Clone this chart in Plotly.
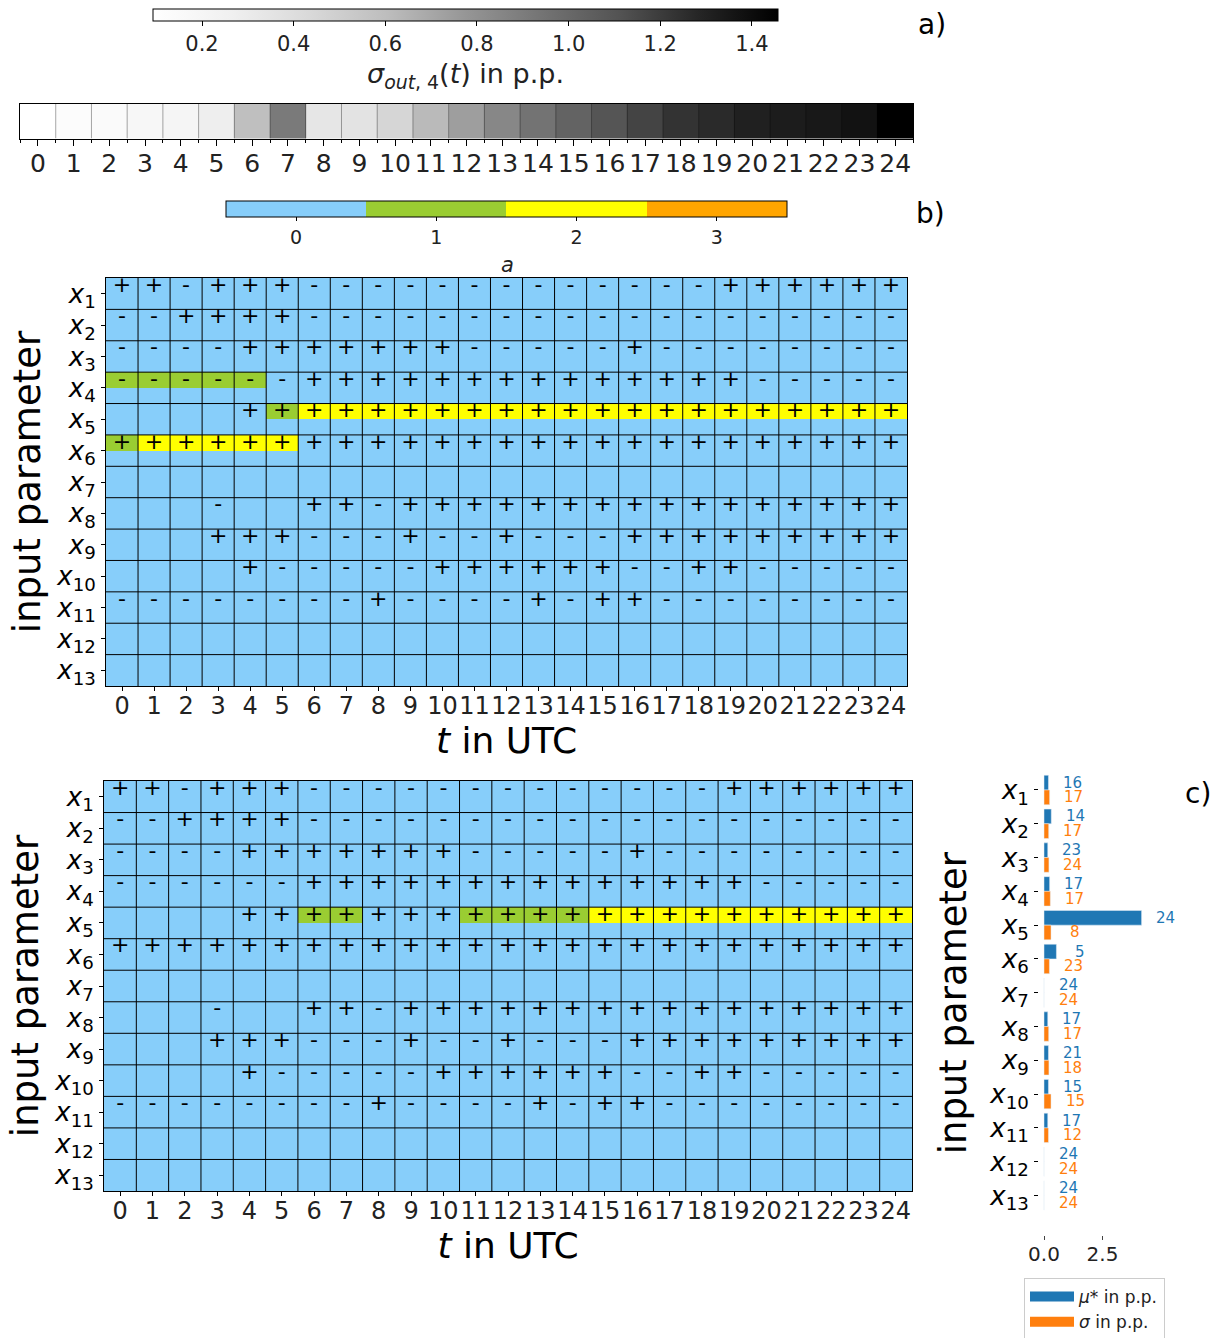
import numpy as np
import plotly.graph_objects as go

W, H = 1220, 1338
FONT = "DejaVu Sans"

# ---- data -------------------------------------------------------------
hours = list(range(25))
param_idx = list(range(13))
param_labels = [f"<i>x</i><sub>{i + 1}</sub>" for i in param_idx]

# hourly output spread sigma_out,4(t) in p.p.
sigma_out4 = [0.093, 0.127, 0.150, 0.184, 0.207, 0.279, 0.593, 0.911, 0.337,
              0.360, 0.452, 0.618, 0.740, 0.848, 0.948, 1.029, 1.101, 1.169,
              1.233, 1.267, 1.310, 1.328, 1.347, 1.374, 1.457]

# sign of the elementary effect per parameter and hour ('.' = none)
signs = [
    "++-+++-------------++++++",
    "--++++-------------------",
    "----+++++++-----+--------",
    "------++++++++++++++-----",
    "....+++++++++++++++++++++",
    "+++++++++++++++++++++++++",
    ".........................",
    "...-..++-++++++++++++++++",
    "...+++---+--+---+++++++++",
    "....+-----++++++--++-----",
    "--------+----+-++--------",
    ".........................",
    ".........................",
]

# category a per parameter and hour (upper matrix)
cat_upper = [
    "0000000000000000000000000",
    "0000000000000000000000000",
    "0000000000000000000000000",
    "1111100000000000000000000",
    "0000012222222222222222222",
    "1222220000000000000000000",
    "0000000000000000000000000",
    "0000000000000000000000000",
    "0000000000000000000000000",
    "0000000000000000000000000",
    "0000000000000000000000000",
    "0000000000000000000000000",
    "0000000000000000000000000",
]

# category a per parameter and hour (lower matrix)
cat_lower = [
    "0000000000000000000000000",
    "0000000000000000000000000",
    "0000000000000000000000000",
    "0000000000000000000000000",
    "0000001100011112222222222",
    "0000000000000000000000000",
    "0000000000000000000000000",
    "0000000000000000000000000",
    "0000000000000000000000000",
    "0000000000000000000000000",
    "0000000000000000000000000",
    "0000000000000000000000000",
    "0000000000000000000000000",
]

# Morris screening per parameter
mu_star = [0.19, 0.31, 0.16, 0.24, 4.17, 0.53, 0.0, 0.16, 0.19, 0.19, 0.16, 0.0, 0.0]
sigma = [0.24, 0.20, 0.21, 0.27, 0.30, 0.23, 0.0, 0.20, 0.21, 0.30, 0.19, 0.0, 0.0]
mu_hours = [16, 14, 23, 17, 24, 5, 24, 17, 21, 15, 17, 24, 24]
sigma_hours = [17, 17, 24, 17, 8, 23, 24, 17, 18, 15, 12, 24, 24]

cb_ticks = [0.2, 0.4, 0.6, 0.8, 1.0, 1.2, 1.4]
cat_ticks = [0, 1, 2, 3]

# ---- styles -----------------------------------------------------------
GREYS = [[0.0, "#ffffff"], [0.125, "#f0f0f0"], [0.25, "#d9d9d9"],
         [0.375, "#bdbdbd"], [0.5, "#969696"], [0.625, "#737373"],
         [0.75, "#525252"], [0.875, "#252525"], [1.0, "#000000"]]
CAT_COLORS = ["#87cefa", "#9acd32", "#ffff00", "#ffa500"]
CAT_SCALE = []
for k, c in enumerate(CAT_COLORS):
    CAT_SCALE += [[k / 4, c], [(k + 1) / 4, c]]
BLUE, ORANGE = "#1f77b4", "#ff7f0e"


def fx(px):
    return px / W


def fy(py):
    return 1 - py / H


def half_rows(cat_rows):
    """Each parameter row: coloured upper half, plain lower half."""
    z = []
    for row in cat_rows:
        z.append([int(c) for c in row])
        z.append([0] * len(row))
    return z


y_edges = np.arange(-0.5, len(param_idx) + 0.01, 0.5)

fig = go.Figure()

# ---- a) hourly sigma strip -----------------------------------------------
fig.add_trace(go.Heatmap(
    z=[sigma_out4], x=hours, y=[0], xaxis="x", yaxis="y",
    colorscale=GREYS, zmin=min(sigma_out4), zmax=max(sigma_out4),
    hoverinfo="skip",
    colorbar=dict(
        orientation="h", x=fx(465.5), xanchor="center", y=fy(9), yanchor="top",
        len=625 / W, lenmode="fraction", thickness=12, xpad=0, ypad=0,
        outlinecolor="black", outlinewidth=1,
        tickvals=cb_ticks, ticktext=[f"{v:.1f}" for v in cb_ticks],
        ticks="outside", ticklen=5, tickcolor="black",
        tickfont=dict(family=FONT, size=21, color="#222"),
        title=dict(text="<i>σ</i><sub><i>out</i>, 4</sub>(<i>t</i>) in p.p.",
                   side="bottom", font=dict(family=FONT, size=27, color="#222")),
    ),
))

# ---- b) sign matrices --------------------------------------------------
def add_matrix(cat_rows, xa, ya, show_scale):
    cb = None
    if show_scale:
        cb = dict(
            orientation="h", x=fx(506.5), xanchor="center", y=fy(201), yanchor="top",
            len=561 / W, lenmode="fraction", thickness=16, xpad=0, ypad=0,
            outlinecolor="black", outlinewidth=1,
            tickvals=cat_ticks, ticktext=[str(v) for v in cat_ticks],
            ticks="outside", ticklen=4, tickcolor="black",
            tickfont=dict(family=FONT, size=19, color="#222"),
        )
    fig.add_trace(go.Heatmap(
        z=half_rows(cat_rows), x=hours, y=y_edges, xaxis=xa, yaxis=ya,
        colorscale=CAT_SCALE, zmin=-0.5, zmax=len(CAT_COLORS) - 0.5,
        showscale=show_scale, colorbar=cb, hoverinfo="skip",
    ))
    sx, sy, st = [], [], []
    for r, row in enumerate(signs):
        for c, s in enumerate(row):
            if s != ".":
                sx.append(hours[c])
                sy.append(r - 0.24)
                st.append(s)
    fig.add_trace(go.Scatter(
        x=sx, y=sy, text=st, mode="text", xaxis=xa, yaxis=ya,
        textfont=dict(family=FONT, size=22, color="black"),
        textposition="middle center", hoverinfo="skip", showlegend=False,
    ))


add_matrix(cat_upper, "x2", "y2", True)
add_matrix(cat_lower, "x3", "y3", False)

# ---- c) Morris bars -------------------------------------------------------
BARGAP = 0.13
fig.add_trace(go.Bar(x=mu_star, y=param_idx, orientation="h", marker_color=BLUE,
                     xaxis="x4", yaxis="y4", showlegend=False, hoverinfo="skip"))
fig.add_trace(go.Bar(x=sigma, y=param_idx, orientation="h", marker_color=ORANGE,
                     xaxis="x4", yaxis="y4", showlegend=False, hoverinfo="skip"))
for name, col in [("<i>μ</i>* in p.p.", BLUE), ("<i>σ</i> in p.p.", ORANGE)]:
    fig.add_trace(go.Scatter(x=[None], y=[None], mode="lines", name=name,
                             line=dict(color=col, width=15), xaxis="x4", yaxis="y4"))

off = (1 - BARGAP) / 4
annotations = []
for i in param_idx:
    for val, cnt, col, sgn in [(mu_star[i], mu_hours[i], BLUE, -1),
                               (sigma[i], sigma_hours[i], ORANGE, 1)]:
        annotations.append(dict(
            x=val, y=i + sgn * off, xref="x4", yref="y4", text=str(cnt),
            showarrow=False, xanchor="center", yanchor="middle", xshift=24,
            font=dict(family=FONT, size=15, color=col)))

# colour-bar label for category a
annotations.append(dict(x=fx(507), y=fy(265), xref="paper", yref="paper",
                        text="<i>a</i>", showarrow=False, xanchor="center",
                        yanchor="middle", font=dict(family=FONT, size=21, color="#222")))

for txt, px, py in [("a)", 932, 24), ("b)", 930, 214), ("c)", 1198, 793)]:
    annotations.append(dict(x=fx(px), y=fy(py), xref="paper", yref="paper",
                            text=txt, showarrow=False, xanchor="center",
                            yanchor="middle",
                            font=dict(family=FONT, size=28, color="black")))

# ---- grid lines -----------------------------------------------------------
shapes = []
for xa, ya in [("x2", "y2"), ("x3", "y3")]:
    for k in hours[:-1]:
        shapes.append(dict(type="line", xref=xa, yref=ya, x0=k + 0.5, x1=k + 0.5,
                           y0=-0.5, y1=len(param_idx) - 0.5, layer="above",
                           line=dict(color="black", width=1)))
    for r in param_idx[:-1]:
        shapes.append(dict(type="line", xref=xa, yref=ya, x0=-0.5, x1=len(hours) - 0.5,
                           y0=r + 0.5, y1=r + 0.5, layer="above",
                           line=dict(color="black", width=1)))
for k in hours[:-1]:
    shapes.append(dict(type="line", xref="x", yref="y", x0=k + 0.5, x1=k + 0.5,
                       y0=-0.5, y1=0.5, layer="above",
                       line=dict(color="rgba(0,0,0,0.35)", width=1)))

# ---- axes ------------------------------------------------------------------
tick_font = dict(family=FONT, size=24, color="#222")
ylab_font = dict(family=FONT, size=26, color="black")
frame = dict(showline=True, mirror=True, linecolor="black", linewidth=1,
             showgrid=False, zeroline=False)


def hour_axis(domain, anchor):
    return dict(domain=domain, anchor=anchor, range=[-0.5, len(hours) - 0.5],
                tickvals=hours, ticktext=[str(h) for h in hours], tickangle=0,
                ticks="outside", ticklen=4, tickcolor="black", tickfont=tick_font,
                ticklabelstandoff=-6,
                title=dict(text="<i>t</i> in UTC", standoff=6,
                           font=dict(family=FONT, size=36, color="black")),
                **frame)


def param_axis(domain, anchor, rng, standoff, line=True):
    ax = dict(domain=domain, anchor=anchor, range=rng,
              tickvals=param_idx, ticktext=param_labels,
              ticks="outside", ticklen=4, tickcolor="black", tickfont=ylab_font,
              title=dict(text="input parameter", standoff=standoff,
                         font=dict(family=FONT, size=37, color="black")))
    if line:
        ax.update(frame)
    else:
        ax.update(showline=False, showgrid=False, zeroline=False)
    return ax


fig.update_layout(
    width=W, height=H,
    margin=dict(l=0, r=0, t=0, b=0, autoexpand=False),
    paper_bgcolor="white", plot_bgcolor="white",
    font=dict(family=FONT, color="black"),
    barmode="group", bargap=BARGAP, bargroupgap=0,
    showlegend=True,
    legend=dict(x=fx(1024), y=fy(1278), xanchor="left", yanchor="top",
                bgcolor="white", bordercolor="#cccccc", borderwidth=1,
                font=dict(family=FONT, size=17, color="#222"),
                itemwidth=44, tracegroupgap=0),
    xaxis=dict(domain=[fx(20), fx(913)], anchor="y", range=[-0.5, len(hours) - 0.5],
               tickvals=hours, ticktext=[str(h) for h in hours], tickangle=0,
               ticks="outside", ticklen=6, tickcolor="black",
               tickfont=dict(family=FONT, size=25, color="#222"),
               ticklabelstandoff=-4,
               minor=dict(tick0=-0.5, dtick=1, ticks="outside", ticklen=3,
                          tickcolor="black"),
               **frame),
    yaxis=dict(domain=[fy(138.5), fy(104)], anchor="x", range=[-0.5, 0.5],
               showticklabels=False, ticks="", **frame),
    xaxis2=hour_axis([fx(106), fx(907)], "y2"),
    yaxis2=param_axis([fy(686), fy(278)], "x2", [len(param_idx) - 0.5, -0.5], 4),
    xaxis3=hour_axis([fx(104), fx(912)], "y3"),
    yaxis3=param_axis([fy(1191), fy(781)], "x3", [len(param_idx) - 0.5, -0.5], 4),
    xaxis4=dict(domain=[fx(1039.1), fx(1146.5)], anchor="y4", range=[-0.21, 4.38],
                tickvals=[0, 2.5], ticktext=["0.0", "2.5"], ticks="outside",
                ticklen=4, tickcolor="#444", showline=False, showgrid=False,
                zeroline=False, ticklabelstandoff=-3,
                tickfont=dict(family=FONT, size=20, color="#222")),
    yaxis4=param_axis([fy(1235), fy(771.4)], "x4", [13.17, -0.55], 11, line=False),
    annotations=annotations,
    shapes=shapes,
)

fig.write_html("out.html")
